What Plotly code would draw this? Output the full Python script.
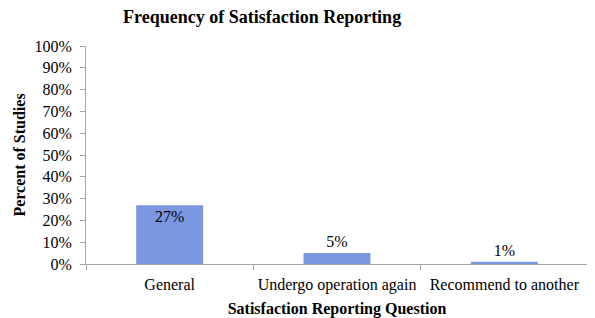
import plotly.graph_objects as go

categories = ["General", "Undergo operation again", "Recommend to another"]
values = [27, 5, 1]
labels = ["27%", "5%", "1%"]
text_positions = ["inside", "outside", "outside"]

font_family = "Liberation Serif, Times New Roman, serif"
axis_col = "#a6a6a6"

fig = go.Figure(go.Bar(
    x=categories, y=values, text=labels, textposition=text_positions,
    insidetextanchor="end", width=0.4,
    marker=dict(color="#7b97e0", line=dict(width=0)),
    textfont=dict(family=font_family, size=16, color="black"),
    insidetextfont=dict(family=font_family, size=16, color="black"),
    outsidetextfont=dict(family=font_family, size=16, color="black"),
    cliponaxis=False,
))

fig.update_layout(
    width=595, height=318,
    margin=dict(l=78, r=15, t=38, b=62, autoexpand=False),
    paper_bgcolor="white", plot_bgcolor="white",
    font=dict(family=font_family, size=16, color="black"),
    title=dict(text="<b>Frequency of Satisfaction Reporting</b>",
               x=0.427, xanchor="center", y=0.972, yanchor="middle",
               font=dict(family=font_family, size=18, color="black")),
    showlegend=False,
    bargap=0.6,
)
fig.update_xaxes(
    showline=True, linecolor=axis_col, linewidth=1,
    ticks="outside", tickson="boundaries", ticklen=5, tickcolor=axis_col,
    showgrid=False, tickangle=0, automargin=False, ticklabelstandoff=6,
    tickfont=dict(family=font_family, size=16, color="black"),
    title=dict(text="<b>Satisfaction Reporting Question</b>", standoff=9,
               font=dict(family=font_family, size=16, color="black")),
)
fig.update_yaxes(
    range=[0, 100], dtick=10, ticksuffix="%",
    showline=True, linecolor=axis_col, linewidth=1,
    ticks="outside", ticklen=5, tickcolor=axis_col,
    showgrid=False, zeroline=False, automargin=False, ticklabelstandoff=5,
    tickfont=dict(family=font_family, size=16, color="black"),
    title=dict(text="<b>Percent of Studies</b>", standoff=4,
               font=dict(family=font_family, size=16, color="black")),
)

fig.write_html("out.html")
